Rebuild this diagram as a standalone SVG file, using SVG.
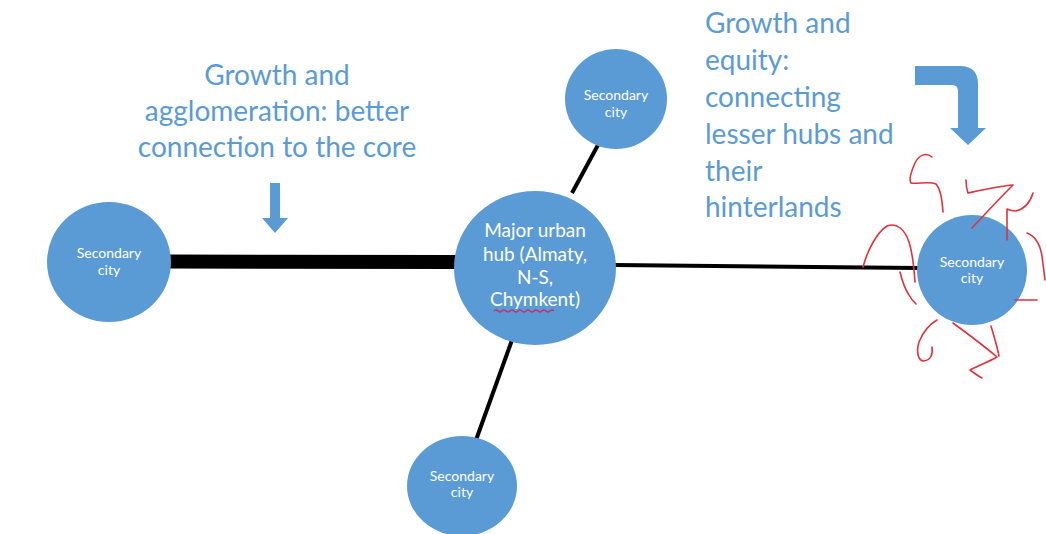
<svg xmlns="http://www.w3.org/2000/svg" width="1046" height="534" viewBox="0 0 1046 534">
  <style>
    .city { fill: #5b9bd5; }
    .city-label { font-family: Lato, "Open Sans", "Liberation Sans", sans-serif; font-size: 14px; fill: #ffffff; text-anchor: middle; }
    .hub-label { font-family: Lato, "Open Sans", "Liberation Sans", sans-serif; font-size: 19px; fill: #ffffff; text-anchor: middle; }
    .note { font-family: Lato, "Open Sans", "Liberation Sans", sans-serif; font-size: 28px; fill: #5b9bd5; }
    .link { stroke: #000000; stroke-linecap: butt; fill: none; }
    .pointer { fill: #5b9bd5; }
    .scribble { fill: none; stroke: #e0323c; stroke-width: 1.6; stroke-linecap: round; stroke-linejoin: round; }
  </style>
  <rect width="1046" height="534" fill="#ffffff"/>

  <!-- connectors -->
  <g id="connectors">
    <line class="link" x1="168" y1="261.5" x2="456" y2="262" stroke-width="14"/>
    <line class="link" x1="614" y1="265" x2="918" y2="268" stroke-width="4"/>
    <line class="link" x1="572" y1="193" x2="598" y2="145" stroke-width="4"/>
    <line class="link" x1="512" y1="340" x2="476" y2="440" stroke-width="4"/>
  </g>

  <!-- captions -->
  <g id="caption-core">
    <text class="note" text-anchor="middle" x="277" y="85">Growth and</text>
    <text class="note" text-anchor="middle" x="277" y="121">agglomeration: better</text>
    <text class="note" text-anchor="middle" x="277" y="157">connection to the core</text>
  </g>
  <g id="caption-equity">
    <text class="note" x="705" y="33">Growth and</text>
    <text class="note" x="705" y="70">equity:</text>
    <text class="note" x="705" y="107">connecting</text>
    <text class="note" x="705" y="144">lesser hubs and</text>
    <text class="note" x="705" y="181">their</text>
    <text class="note" x="705" y="217">hinterlands</text>
  </g>

  <!-- pointer arrows -->
  <g id="arrow-down">
    <path class="pointer" d="M270,183 H280 V218 H288 L275,233 L262,218 H270 Z"/>
  </g>
  <g id="arrow-bent">
    <path class="pointer" d="M915,66 H960 Q978,66 978,84 V128 H986 L968,145 L950,128 H958 V91 Q958,85 952,85 H915 Z"/>
  </g>

  <!-- nodes -->
  <g id="node-hub">
    <ellipse class="city" cx="535" cy="268" rx="81" ry="77"/>
    <text class="hub-label" x="535" y="237">Major urban</text>
    <text class="hub-label" x="535" y="261">hub (Almaty,</text>
    <text class="hub-label" x="535" y="284">N-S,</text>
    <text class="hub-label" x="535" y="306">Chymkent)</text>
    <path d="M494,311 q2,-2 4,0 t4,0 t4,0 t4,0 t4,0 t4,0 t4,0 t4,0 t4,0 t4,0 t4,0 t4,0 t4,0 t4,0 t4,0" fill="none" stroke="#c0306a" stroke-width="1.2"/>
  </g>
  <g id="node-west">
    <ellipse class="city" cx="109" cy="262" rx="62" ry="60"/>
    <text class="city-label" x="109" y="258">Secondary</text>
    <text class="city-label" x="109" y="275">city</text>
  </g>
  <g id="node-north">
    <ellipse class="city" cx="616" cy="99" rx="51" ry="50"/>
    <text class="city-label" x="616" y="100">Secondary</text>
    <text class="city-label" x="616" y="117">city</text>
  </g>
  <g id="node-south">
    <ellipse class="city" cx="462" cy="486" rx="55" ry="50"/>
    <text class="city-label" x="462" y="481">Secondary</text>
    <text class="city-label" x="462" y="497">city</text>
  </g>
  <g id="node-east">
    <circle class="city" cx="972" cy="270" r="55"/>
    <text class="city-label" x="972" y="267">Secondary</text>
    <text class="city-label" x="972" y="283">city</text>
  </g>

  <!-- hand-drawn marks around the eastern city -->
  <g id="scribbles">
    <path class="scribble" d="M932,157 C926,152 919,155 915,163 C911,172 909,180 911,183 C918,184 930,181 936,184 C941,190 942,200 943,212"/>
    <path class="scribble" d="M966,180 C966,186 967,190 968,193 C982,190 1000,186 1013,185 C1000,198 985,214 972,228"/>
    <path class="scribble" d="M1033,193 C1030,203 1024,209 1016,211 C1012,211 1009,210 1007,209 L1007,240"/>
    <path class="scribble" d="M1027,233 C1035,236 1040,244 1042,256 C1043,264 1044,272 1045,280"/>
    <path class="scribble" d="M1015,300 L1037,300"/>
    <path class="scribble" d="M863,267 C867,252 876,233 887,226 C897,222 905,230 909,242 C913,254 914,268 915,282"/>
    <path class="scribble" d="M900,272 C902,280 904,288 909,295 C911,299 914,302 916,304"/>
    <path class="scribble" d="M937,320 C930,324 923,332 919,342 C916,352 918,361 924,361 C931,360 933,354 932,347"/>
    <path class="scribble" d="M953,323 C968,334 984,346 997,357 C988,362 978,366 970,370 C974,373 978,376 982,378"/>
    <path class="scribble" d="M991,326 C994,336 997,346 999,356"/>
  </g>
</svg>
